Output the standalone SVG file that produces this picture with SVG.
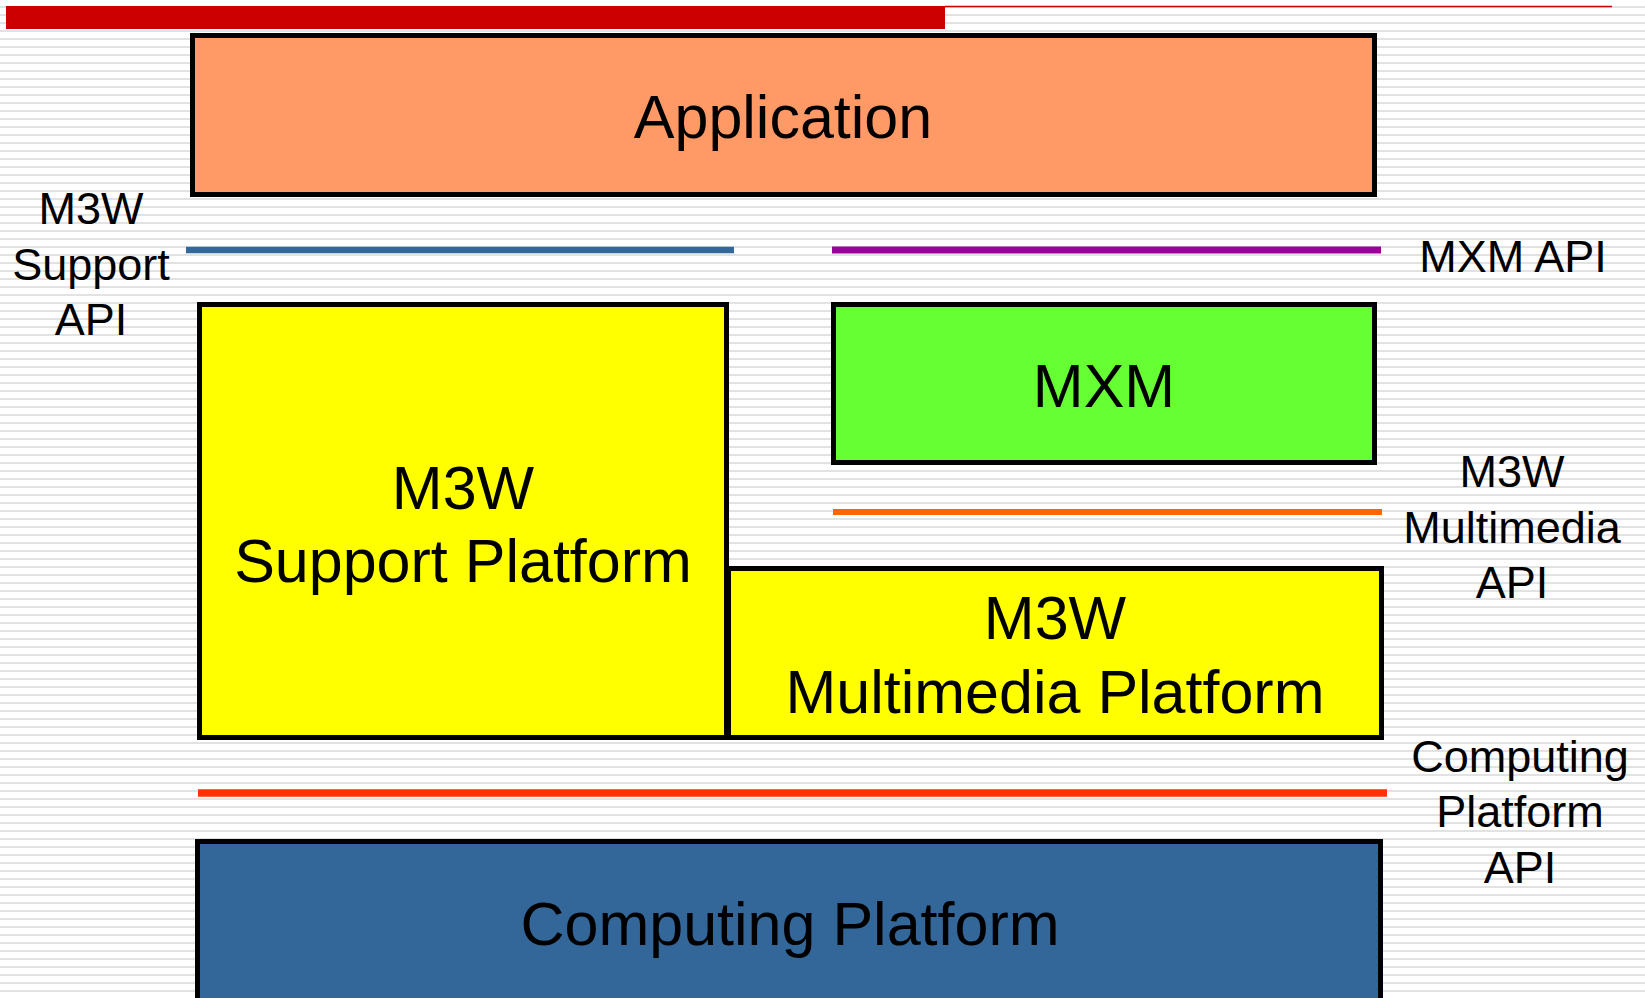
<svg xmlns="http://www.w3.org/2000/svg" width="1645" height="998" viewBox="0 0 1645 998">
  <style>
    .box { stroke: #000000; stroke-width: 5; }
    .big { font-family: "Liberation Sans", Arial, sans-serif; font-size: 61px; fill: #000000; text-anchor: middle; }
    .lbl { font-family: "Liberation Sans", Arial, sans-serif; font-size: 45px; fill: #000000; text-anchor: middle; }
    .api { fill: none; stroke-linecap: butt; }
  </style>
  <defs>
    <pattern id="stripes" x="0" y="0" width="16" height="8" patternUnits="userSpaceOnUse">
      <rect x="0" y="0" width="16" height="8" fill="#ffffff"/>
      <rect x="0" y="6" width="16" height="2" fill="#e2e2e2"/>
      <rect x="0" y="8" width="16" height="0.8" fill="#efefef"/>
    </pattern>
  </defs>

  <rect x="0" y="0" width="1645" height="998" fill="url(#stripes)"/>

  <g id="title-bar">
    <rect x="6" y="6" width="939" height="23" fill="#cc0000"/>
    <line x1="945" y1="6.5" x2="1612" y2="6.5" stroke="#cc0000" stroke-width="1.6"/>
  </g>

  <g id="application">
    <rect class="box" x="192.5" y="35.5" width="1182" height="159" fill="#ff9966"/>
    <text class="big" x="783" y="138">Application</text>
  </g>

  <g id="m3w-support-platform">
    <rect class="box" x="199.5" y="304.5" width="527" height="433" fill="#ffff00"/>
    <text class="big" x="463" y="509">M3W</text>
    <text class="big" x="463" y="582">Support Platform</text>
  </g>

  <g id="mxm">
    <rect class="box" x="833.5" y="304.5" width="541" height="158" fill="#66ff33"/>
    <text class="big" x="1104" y="407">MXM</text>
  </g>

  <g id="m3w-multimedia-platform">
    <rect class="box" x="728.5" y="568.5" width="653" height="169" fill="#ffff00"/>
    <text class="big" x="1055" y="639">M3W</text>
    <text class="big" x="1055" y="713">Multimedia Platform</text>
  </g>

  <g id="computing-platform">
    <rect class="box" x="197.5" y="841.5" width="1183" height="200" fill="#336699"/>
    <text class="big" x="790" y="945">Computing Platform</text>
  </g>

  <g id="connectors">
    <line class="api" x1="186" y1="250" x2="734" y2="250" stroke="#336699" stroke-width="6.5"/>
    <line class="api" x1="832" y1="250" x2="1381" y2="250" stroke="#990099" stroke-width="7"/>
    <line class="api" x1="833" y1="512" x2="1382" y2="512" stroke="#ff6600" stroke-width="6"/>
    <line class="api" x1="198" y1="793" x2="1387" y2="793" stroke="#ff3300" stroke-width="7.5"/>
  </g>

  <g id="label-m3w-support-api">
    <text class="lbl" x="91" y="224">M3W</text>
    <text class="lbl" x="91" y="280">Support</text>
    <text class="lbl" x="91" y="335">API</text>
  </g>

  <g id="label-mxm-api">
    <text class="lbl" x="1513" y="272">MXM API</text>
  </g>

  <g id="label-m3w-multimedia-api">
    <text class="lbl" x="1512" y="487">M3W</text>
    <text class="lbl" x="1512" y="543">Multimedia</text>
    <text class="lbl" x="1512" y="598">API</text>
  </g>

  <g id="label-computing-platform-api">
    <text class="lbl" x="1520" y="772">Computing</text>
    <text class="lbl" x="1520" y="827">Platform</text>
    <text class="lbl" x="1520" y="883">API</text>
  </g>
</svg>
